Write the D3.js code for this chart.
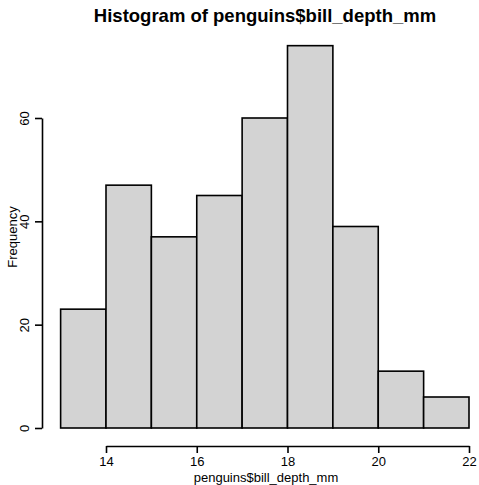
<!DOCTYPE html>
<html>
<head>
<meta charset="utf-8">
<script src="https://cdn.jsdelivr.net/npm/d3@7"></script>
<style>
  body { margin: 0; background: white; }
  text { font-family: "Liberation Sans", Arial, sans-serif; }
</style>
</head>
<body>
<div id="chart"></div>
<script>
const width = 479;
const height = 485;

// histogram data (bins of width 1)
const binStarts = [13, 14, 15, 16, 17, 18, 19, 20, 21];
const counts = [23, 47, 37, 45, 60, 74, 39, 11, 6];
const xTicks = [14, 16, 18, 20, 22];
const yTicks = [0, 20, 40, 60];

const xScale = d3.scaleLinear()
    .domain([14, 22])
    .range([106, 469]);

const yScale = d3.scaleLinear()
    .domain([0, 60])
    .range([428, 118]);

const svg = d3.select('#chart')
    .append('svg')
    .attr('width', width)
    .attr('height', height);

// bars
svg.selectAll('rect.bar')
    .data(binStarts)
    .join('rect')
    .attr('class', 'bar')
    .attr('x', d => xScale(d))
    .attr('width', d => xScale(d + 1) - xScale(d))
    .attr('y', (d, i) => yScale(counts[i]))
    .attr('height', (d, i) => yScale(0) - yScale(counts[i]))
    .attr('fill', '#d3d3d3')
    .attr('stroke', 'black')
    .attr('stroke-width', 1.6);

// x axis
const xAxis = svg.append('g')
    .attr('transform', 'translate(0, 446)')
    .call(d3.axisBottom(xScale).tickValues(xTicks).tickSize(7).tickPadding(4).tickSizeOuter(0));
xAxis.select('.domain').attr('stroke-width', 1.6);
xAxis.selectAll('.tick line').attr('stroke-width', 1.6);
xAxis.selectAll('.tick text').attr('font-size', '13px').attr('fill', 'black')
    .attr('font-family', 'Liberation Sans, Arial, sans-serif');

// y axis
const yAxis = svg.append('g')
    .attr('transform', 'translate(42, 0)')
    .call(d3.axisLeft(yScale).tickValues(yTicks).tickSize(7).tickSizeOuter(0).tickFormat(d3.format('d')));
yAxis.select('.domain').attr('stroke-width', 1.6);
yAxis.selectAll('.tick line').attr('stroke-width', 1.6);
yAxis.selectAll('.tick text')
    .attr('font-size', '13px')
    .attr('fill', 'black')
    .attr('font-family', 'Liberation Sans, Arial, sans-serif')
    .attr('x', null)
    .attr('dy', null)
    .attr('text-anchor', 'middle')
    .attr('transform', 'translate(-13, 0) rotate(-90)');

// title
svg.append('text')
    .attr('x', 265)
    .attr('y', 22)
    .attr('text-anchor', 'middle')
    .attr('font-size', '18.5px')
    .attr('font-weight', 'bold')
    .text('Histogram of penguins$bill_depth_mm');

// axis labels
svg.append('text')
    .attr('x', 266)
    .attr('y', 482)
    .attr('text-anchor', 'middle')
    .attr('font-size', '13px')
    .text('penguins$bill_depth_mm');

svg.append('text')
    .attr('transform', 'translate(17, 237) rotate(-90)')
    .attr('text-anchor', 'middle')
    .attr('font-size', '13px')
    .text('Frequency');
</script>
</body>
</html>
